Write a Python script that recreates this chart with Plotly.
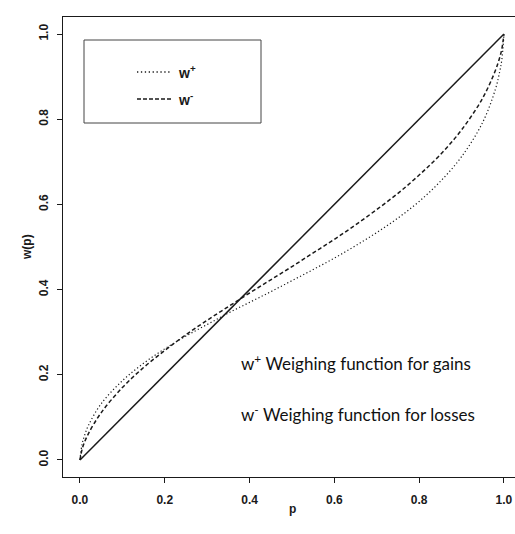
import plotly.graph_objects as go

# probability grid and weighting values
p = [0, 0.005, 0.01, 0.02, 0.05, 0.1, 0.15, 0.2, 0.25, 0.3, 0.35, 0.4, 0.45, 0.5,
     0.55, 0.6, 0.65, 0.7, 0.75, 0.8, 0.85, 0.9, 0.95, 0.98, 0.99, 0.995, 1]
w_plus = [0, 0.037, 0.055, 0.081, 0.132, 0.186, 0.227, 0.261, 0.291, 0.318, 0.345,
          0.370, 0.395, 0.421, 0.447, 0.474, 0.503, 0.534, 0.568, 0.607, 0.654,
          0.712, 0.793, 0.871, 0.912, 0.940, 1]
w_minus = [0, 0.025, 0.040, 0.062, 0.111, 0.170, 0.217, 0.257, 0.294, 0.328, 0.360,
           0.392, 0.423, 0.454, 0.486, 0.518, 0.552, 0.588, 0.626, 0.669, 0.717,
           0.775, 0.850, 0.915, 0.945, 0.965, 1]
diag_p = [0, 1]
diag_w = [0, 1]

tick_vals = [0, 0.2, 0.4, 0.6, 0.8, 1.0]
tick_text = ["0.0", "0.2", "0.4", "0.6", "0.8", "1.0"]

INK = "#1a1a1a"
W, H = 515, 534
L, R, T, B = 63, 0, 17, 57
PW, PH = W - L - R, H - T - B


def px(x):
    return (x - L) / PW


def py(y):
    return (H - B - y) / PH


fig = go.Figure()
fig.add_trace(go.Scatter(x=diag_p, y=diag_w, mode="lines",
                         line=dict(color=INK, width=1.5), showlegend=False))
fig.add_trace(go.Scatter(x=p, y=w_minus, mode="lines", line_shape="spline",
                         line=dict(color=INK, width=1.5, dash="4px,2.5px"),
                         showlegend=False))
fig.add_trace(go.Scatter(x=p, y=w_plus, mode="lines", line_shape="spline",
                         line=dict(color=INK, width=1.2, dash="1.2px,2.4px"),
                         showlegend=False))

axis_font = dict(family="Liberation Sans, Arial", size=12, color=INK, weight="bold")

fig.update_layout(
    width=W, height=H,
    margin=dict(l=L, r=R, t=T, b=B, autoexpand=False),
    paper_bgcolor="white", plot_bgcolor="white",
    showlegend=False,
    xaxis=dict(range=[-0.04, -0.04 + PW / 424], tickvals=tick_vals, ticktext=tick_text,
               ticks="outside", ticklen=5, tickwidth=1, tickcolor=INK,
               showline=True, linecolor=INK, linewidth=1.3, mirror=True,
               showgrid=False, zeroline=False, tickfont=axis_font, ticklabelstandoff=6),
    yaxis=dict(range=[-0.04, 1.04], tickvals=tick_vals, ticktext=tick_text,
               ticks="outside", ticklen=5, tickwidth=1, tickcolor=INK,
               showline=True, linecolor=INK, linewidth=1.3, mirror=False,
               showgrid=False, zeroline=False, tickfont=axis_font, tickangle=-90,
               ticklabelstandoff=4),
)

# axis titles
fig.add_annotation(x=px(292), y=py(518), xref="paper", yref="paper", text="p",
                   showarrow=False, font=dict(family="Liberation Sans, Arial", size=12,
                                              color=INK, weight="bold"))
fig.add_annotation(x=px(18), y=py(247), xref="paper", yref="paper", text="w(p)",
                   textangle=-90, showarrow=False,
                   font=dict(family="Liberation Sans, Arial", size=12, color=INK,
                             weight="bold"))

# legend box
fig.add_shape(type="rect", xref="paper", yref="paper", x0=px(84), x1=px(261),
              y0=py(123), y1=py(40), line=dict(color="#444", width=1))
fig.add_shape(type="line", xref="paper", yref="paper", x0=px(137), x1=px(171),
              y0=py(72), y1=py(72), line=dict(color=INK, width=1.5, dash="1.3px,2.6px"))
fig.add_shape(type="line", xref="paper", yref="paper", x0=px(137), x1=px(171),
              y0=py(99), y1=py(99), line=dict(color=INK, width=1.5, dash="4px,2px"))
leg_font = dict(family="Liberation Sans, Arial", size=14, color=INK, weight="bold")
fig.add_annotation(x=px(176), y=py(72), xref="paper", yref="paper", text="w<sup>+</sup>",
                   xanchor="left", yanchor="middle", showarrow=False, font=leg_font)
fig.add_annotation(x=px(176), y=py(99), xref="paper", yref="paper", text="w<sup>-</sup>",
                   xanchor="left", yanchor="middle", showarrow=False, font=leg_font)

# explanatory text
note_font = dict(family="Lato, Open Sans", size=17, color="#111")
fig.add_annotation(x=px(239), y=py(362), xref="paper", yref="paper",
                   text="w<sup>+</sup> Weighing function for gains",
                   xanchor="left", yanchor="middle", showarrow=False, font=note_font)
fig.add_annotation(x=px(239), y=py(413), xref="paper", yref="paper",
                   text="w<sup>-</sup> Weighing function for losses",
                   xanchor="left", yanchor="middle", showarrow=False, font=note_font)

fig.write_html("out.html")
